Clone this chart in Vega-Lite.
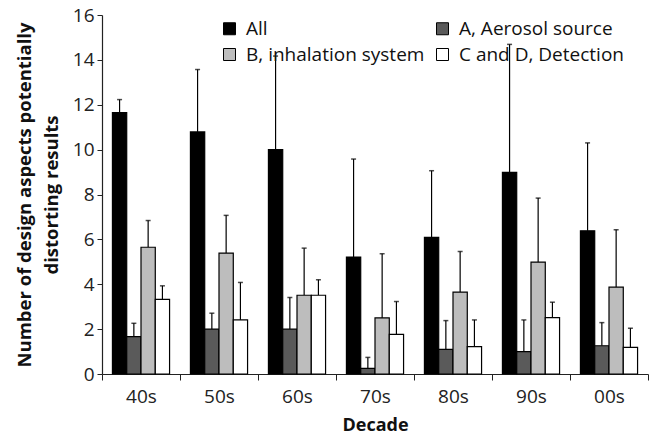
{
  "$schema": "https://vega.github.io/schema/vega-lite/v6.json",
  "width": 546,
  "height": 359,
  "autosize": {"type": "none"},
  "padding": {"left": 102, "top": 15, "right": 2, "bottom": 67},
  "background": "white",
  "config": {
    "view": {"stroke": null},
    "font": "Open Sans",
    "axis": {"grid": false, "domainColor": "#222", "tickColor": "#222", "labelColor": "#222", "labelFont": "Open Sans", "titleFont": "Open Sans", "titleColor": "#111"}
  },
  "data": {
    "values": [
      {"decade": "40s", "series": "All", "value": 11.65, "upper": 12.23},
      {"decade": "40s", "series": "A, Aerosol source", "value": 1.67, "upper": 2.26},
      {"decade": "40s", "series": "B, inhalation system", "value": 5.65, "upper": 6.84},
      {"decade": "40s", "series": "C and D, Detection", "value": 3.33, "upper": 3.93},
      {"decade": "50s", "series": "All", "value": 10.79, "upper": 13.57},
      {"decade": "50s", "series": "A, Aerosol source", "value": 2.0, "upper": 2.71},
      {"decade": "50s", "series": "B, inhalation system", "value": 5.39, "upper": 7.07},
      {"decade": "50s", "series": "C and D, Detection", "value": 2.41, "upper": 4.08},
      {"decade": "60s", "series": "All", "value": 10.0, "upper": 14.17},
      {"decade": "60s", "series": "A, Aerosol source", "value": 2.0, "upper": 3.41},
      {"decade": "60s", "series": "B, inhalation system", "value": 3.51, "upper": 5.61},
      {"decade": "60s", "series": "C and D, Detection", "value": 3.51, "upper": 4.2},
      {"decade": "70s", "series": "All", "value": 5.21, "upper": 9.58},
      {"decade": "70s", "series": "A, Aerosol source", "value": 0.25, "upper": 0.74},
      {"decade": "70s", "series": "B, inhalation system", "value": 2.5, "upper": 5.36},
      {"decade": "70s", "series": "C and D, Detection", "value": 1.77, "upper": 3.23},
      {"decade": "80s", "series": "All", "value": 6.09, "upper": 9.06},
      {"decade": "80s", "series": "A, Aerosol source", "value": 1.1, "upper": 2.38},
      {"decade": "80s", "series": "B, inhalation system", "value": 3.65, "upper": 5.46},
      {"decade": "80s", "series": "C and D, Detection", "value": 1.22, "upper": 2.41},
      {"decade": "90s", "series": "All", "value": 8.99, "upper": 14.69},
      {"decade": "90s", "series": "A, Aerosol source", "value": 1.0, "upper": 2.41},
      {"decade": "90s", "series": "B, inhalation system", "value": 4.99, "upper": 7.84},
      {"decade": "90s", "series": "C and D, Detection", "value": 2.51, "upper": 3.2},
      {"decade": "00s", "series": "All", "value": 6.38, "upper": 10.3},
      {"decade": "00s", "series": "A, Aerosol source", "value": 1.26, "upper": 2.29},
      {"decade": "00s", "series": "B, inhalation system", "value": 3.87, "upper": 6.43},
      {"decade": "00s", "series": "C and D, Detection", "value": 1.19, "upper": 2.04}
    ]
  },
  "encoding": {
    "x": {
      "field": "decade", "type": "nominal", "sort": ["40s", "50s", "60s", "70s", "80s", "90s", "00s"],
      "scale": {"paddingInner": 0, "paddingOuter": 0},
      "axis": {"title": "Decade", "titleFontSize": 18, "titleFontWeight": "bold", "labelFontSize": 19, "labelAngle": 0, "tickBand": "extent", "tickSize": 6, "labelPadding": 7, "titlePadding": 10, "domainWidth": 1.2}
    },
    "xOffset": {
      "field": "series", "type": "nominal",
      "sort": ["All", "A, Aerosol source", "B, inhalation system", "C and D, Detection"],
      "scale": {"paddingInner": 0, "paddingOuter": 0.73}
    }
  },
  "layer": [
    {
      "mark": {"type": "rule", "color": "#000", "strokeWidth": 1.2},
      "encoding": {
        "y": {"field": "value", "type": "quantitative"},
        "y2": {"field": "upper"}
      }
    },
    {
      "mark": {"type": "tick", "color": "#000", "size": 5, "thickness": 1.5},
      "encoding": {
        "y": {"field": "upper", "type": "quantitative"}
      }
    },
    {
      "mark": {"type": "bar", "stroke": "#000", "strokeWidth": 1.2},
      "encoding": {
        "y": {
          "field": "value", "type": "quantitative",
          "scale": {"domain": [0, 16], "nice": false},
          "axis": {
            "values": [0, 2, 4, 6, 8, 10, 12, 14, 16],
            "title": ["Number of design aspects potentially", "distorting results"],
            "titleFontSize": 18.5, "titleFontWeight": "bold", "titlePadding": 11, "titleLineHeight": 27,
            "labelFontSize": 19, "tickSize": 5, "labelPadding": 3, "domainWidth": 1.2
          }
        },
        "fill": {
          "field": "series", "type": "nominal",
          "sort": ["All", "A, Aerosol source", "B, inhalation system", "C and D, Detection"],
          "scale": {"domain": ["All", "A, Aerosol source", "B, inhalation system", "C and D, Detection"], "range": ["#000000", "#5a5a5a", "#bdbdbd", "#ffffff"]},
          "legend": {
            "title": null, "orient": "none", "legendX": 118, "legendY": 4, "columns": 2, "direction": "horizontal",
            "labelFontSize": 19, "labelColor": "#111", "labelLimit": 400, "symbolType": "square", "symbolSize": 144,
            "symbolStrokeColor": "#000", "symbolStrokeWidth": 1, "rowPadding": 6, "columnPadding": 8, "labelOffset": 7
          }
        }
      }
    }
  ]
}
